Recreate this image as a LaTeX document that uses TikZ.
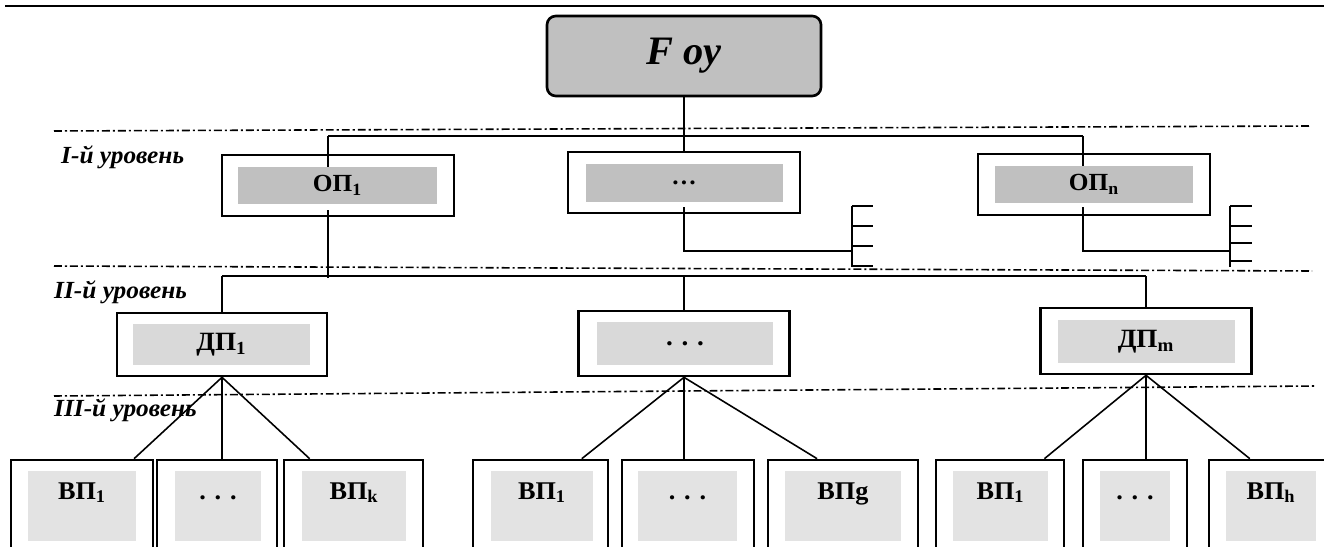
\documentclass[tikz,border=0pt]{standalone}
\usepackage{fontspec}
\setmainfont{Liberation Serif}
\newfontfamily\wfont{Liberation Serif}[FakeStretch=1.03]
\usepackage{xcolor}
\usetikzlibrary{calc,positioning}

\definecolor{fillA}{HTML}{C0C0C0}
\definecolor{fillB}{HTML}{D9D9D9}
\definecolor{fillC}{HTML}{E3E3E3}
\newcommand{\spdots}{.\hspace{5pt}.\hspace{5pt}.}

\tikzset{
  wh/.style 2 args={minimum width=#1*0.02cm,minimum height=#2*0.02cm},
  outerbox/.style={draw,line width=1.5pt,fill=white,inner sep=0pt},
  innerbox/.style={inner sep=0pt},
  link/.style={line width=0.9pt},
  lvlline/.style={line width=0.9pt,dash pattern=on 4.5pt off 1.7pt on 1.2pt off 1.7pt},
  lvltext/.style={anchor=west,font={\wfont\bfseries\itshape\fontsize{14}{16}\selectfont}}
}

\begin{document}
\begin{tikzpicture}[x=0.02cm,y=-0.02cm]
        \path[use as bounding box,clip] (0,0) rectangle (1324,547);
        \draw[line width=1.4pt] (5,6) -- (1324,6);

        %levels
        \draw[lvlline] (54,131) -- (1310,126);
        \draw[lvlline] (54,266) -- (1312,271);
        \draw[lvlline] (54,396) -- (1314,386);
        \node[lvltext] (lvl1) at (55,157) {I-й уровень};
        \node[lvltext] (lvl2) at (48,292) {II-й уровень};
        \node[lvltext] (lvl3) at (48,410) {III-й уровень};

        %nodes
        \node[draw,line width=1.5pt,rounded corners=5pt,fill=fillA,wh={274}{80},
              font={\bfseries\itshape\fontsize{23}{27}\selectfont}] (fou) at (684,56) {F оу};

        \begin{scope}[every node/.append style={font={\wfont\bfseries\fontsize{14}{16}\selectfont}}]
            \node[outerbox,wh={232}{61}] (op1) at (338,185.5) {};
            \node[innerbox,fill=fillA,wh={199}{37}] (op1in) at (337.5,185.5) {ОП\textsubscript{1}};
            \node[outerbox,wh={232}{61}] (opd) at (684,182.5) {};
            \node[innerbox,fill=fillA,wh={197}{38}] (opdin) at (684,183) {…};
            \node[outerbox,wh={232}{61}] (opn) at (1094,184.5) {};
            \node[innerbox,fill=fillA,wh={198}{37}] (opnin) at (1094,184.5) {ОП\textsubscript{n}};
        \end{scope}

        \begin{scope}[every node/.append style={font={\wfont\bfseries\fontsize{15}{17}\selectfont}}]
            \node[outerbox,wh={210}{63}] (dp1) at (222,344.5) {};
            \node[innerbox,fill=fillB,wh={177}{41}] (dp1in) at (221.5,344.5) {ДП\textsubscript{1}};
            \node[outerbox,wh={211}{65}] (dpd) at (684,343.5) {};
            \node[innerbox,fill=fillB,wh={176}{43}] (dpdin) at (685,343.5) {\spdots};
            \node[outerbox,wh={211}{66}] (dpm) at (1146,341) {};
            \node[innerbox,fill=fillB,wh={177}{43}] (dpmin) at (1146,341.5) {ДП\textsubscript{m}};
        \end{scope}

        \foreach \nm/\ox/\ow/\ix/\iw/\txt in {
            vp11/82/142/82/108/ВП\textsubscript{1},
            vp12/217/120/218/86/\spdots,
            vp13/353.5/139/354/104/ВП\textsubscript{k},
            vp21/540.5/135/542/102/ВП\textsubscript{1},
            vp22/688/132/687.5/99/\spdots,
            vp23/843/150/843/116/ВПg,
            vp31/1000/128/1000.5/95/ВП\textsubscript{1},
            vp32/1135/104/1135/70/\spdots,
            vp33/1271.5/125/1271/90/ВП\textsubscript{h}}{
            \node[outerbox,wh={\ow}{110}] (\nm) at (\ox,515) {};
            \node[innerbox,fill=fillC,wh={\iw}{70}] (\nm in) at (\ix,506) {};
            \node[anchor=base,font={\wfont\bfseries\fontsize{14.5}{17}\selectfont}] (\nm txt) at (\ix,499) {\txt};
        }

        %connectors
        \coordinate (b1l) at (328,136);
        \coordinate (b1r) at (1083,136);
        \coordinate (b2l) at (222,276);
        \coordinate (b2r) at (1146,276);
        \coordinate (c1) at (852,251);
        \coordinate (c2) at (1230,251);

        \draw[link] (fou.south) -- (fou.south |- b1l);
        \draw[link] (b1l) -- (b1r);
        \draw[link] (b1l) -- (b1l |- op1in.north);
        \draw[link] (opd.north |- b1l) -- (opd.north);
        \draw[link] (b1r) -- (b1r |- opnin.north);

        \draw[link] ($(b1l |- op1in.south)+(0,6)$) -- ($(b1l |- b2l)+(0,2)$);
        \draw[link] ($(opdin.south)+(0,5)$) |- (c1);
        \draw[link] ($(b1r |- opnin.south)+(0,4)$) |- (c2);
        \draw[link] ($(c1)+(0,-45)$) -- ($(c1)+(0,16)$);
        \foreach \dy in {-45,-25,-5,15}
            \draw[link] ($(c1)+(0,\dy)$) -- ++(21,0);
        \draw[link] ($(c2)+(0,-45)$) -- ($(c2)+(0,16)$);
        \foreach \dy in {-45,-25,-8,10}
            \draw[link] ($(c2)+(0,\dy)$) -- ++(22,0);

        \draw[link] (b2l) -- (b2r);
        \draw[link] (b2l) -- (dp1.north);
        \draw[link] (dpd.north |- b2l) -- (dpd.north);
        \draw[link] (b2r) -- (dpm.north);

        \foreach \dp/\g/\fa/\fc in {dp1/1/0.86/0.19, dpd/2/0.8/0.33, dpm/3/0.84/0.33}{
            \draw[link] ($(vp\g1.north west)!\fa!(vp\g1.north east)$) -- (\dp.south)
                -- ($(vp\g3.north west)!\fc!(vp\g3.north east)$);
            \draw[link] (\dp.south) -- (\dp.south |- vp\g2.north);
        }
\end{tikzpicture}
\end{document}
